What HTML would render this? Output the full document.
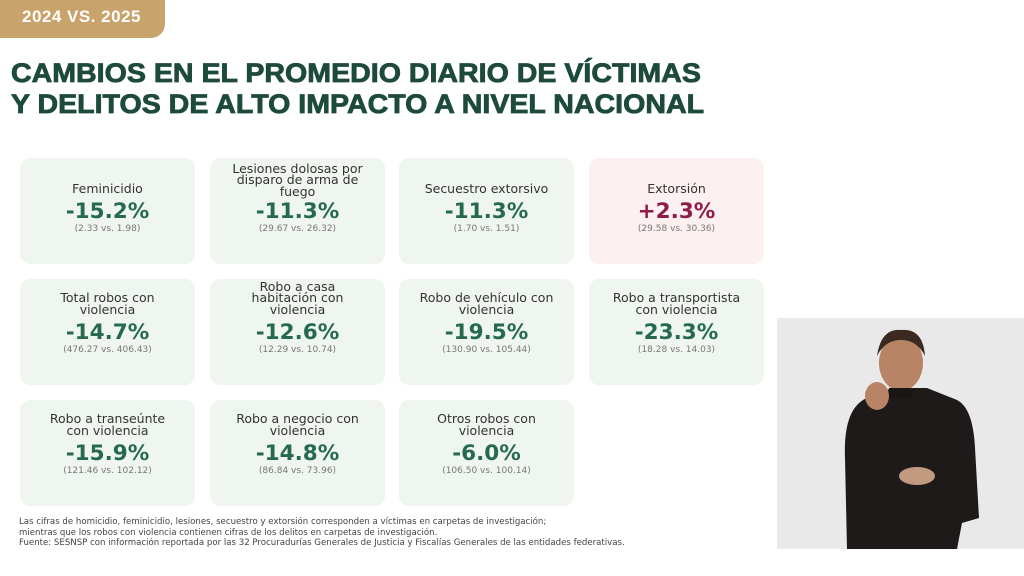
<!DOCTYPE html>
<html><head><meta charset="utf-8"><style>
*{margin:0;padding:0;box-sizing:border-box}
body{width:1024px;height:576px;background:#fff;position:relative;overflow:hidden;font-family:"DejaVu Sans","Liberation Sans",sans-serif}
.badge{position:absolute;left:0;top:0;width:165px;height:38px;background:#c8a36b;border-radius:0 0 14px 0;color:#fff;font:bold 17px "Liberation Sans",sans-serif;padding:7px 0 0 22px;letter-spacing:.5px}
.title{position:absolute;left:11px;top:58px;color:#1d4a3c;font:bold 27px/31px "Liberation Sans",sans-serif;-webkit-text-stroke:.8px #1d4a3c;transform:scaleX(1.058);transform-origin:0 0;white-space:nowrap}
.card{position:absolute;width:175px;height:106px;background:#eff6ef;border-radius:10px}
.card.pink{background:#fcf0f1}
.lab{position:absolute;left:0;right:0;bottom:70px;text-align:center;color:#333;font-size:12.5px;line-height:11.5px}
.pct{position:absolute;left:0;right:0;top:40px;text-align:center;color:#256a4c;font-size:21.5px;line-height:28px;font-weight:600}
.pink .pct{color:#8e1b48}
.sm{position:absolute;left:0;right:0;top:66px;text-align:center;color:#777;font-size:9px}
.foot{position:absolute;left:19px;top:517px;font-size:8.6px;line-height:10.5px;color:#444;white-space:nowrap}
.video{position:absolute;left:777px;top:318px;width:247px;height:231px;background:#e9e9e9}
</style></head><body>
<div class="badge">2024 VS. 2025</div>
<div class="title">CAMBIOS EN EL PROMEDIO DIARIO DE VÍCTIMAS<br>Y DELITOS DE ALTO IMPACTO A NIVEL NACIONAL</div>

<div class="card" style="left:20px;top:158px"><div class="lab">Feminicidio</div><div class="pct">-15.2%</div><div class="sm">(2.33 vs. 1.98)</div></div>
<div class="card" style="left:210px;top:158px"><div class="lab" style="bottom:67px">Lesiones dolosas por<br>disparo de arma de<br>fuego</div><div class="pct">-11.3%</div><div class="sm">(29.67 vs. 26.32)</div></div>
<div class="card" style="left:399px;top:158px"><div class="lab">Secuestro extorsivo</div><div class="pct">-11.3%</div><div class="sm">(1.70 vs. 1.51)</div></div>
<div class="card pink" style="left:589px;top:158px"><div class="lab">Extorsión</div><div class="pct">+2.3%</div><div class="sm">(29.58 vs. 30.36)</div></div>

<div class="card" style="left:20px;top:279px"><div class="lab">Total robos con<br>violencia</div><div class="pct">-14.7%</div><div class="sm">(476.27 vs. 406.43)</div></div>
<div class="card" style="left:210px;top:279px"><div class="lab">Robo a casa<br>habitación con<br>violencia</div><div class="pct">-12.6%</div><div class="sm">(12.29 vs. 10.74)</div></div>
<div class="card" style="left:399px;top:279px"><div class="lab">Robo de vehículo con<br>violencia</div><div class="pct">-19.5%</div><div class="sm">(130.90 vs. 105.44)</div></div>
<div class="card" style="left:589px;top:279px"><div class="lab">Robo a transportista<br>con violencia</div><div class="pct">-23.3%</div><div class="sm">(18.28 vs. 14.03)</div></div>

<div class="card" style="left:20px;top:400px"><div class="lab">Robo a transeúnte<br>con violencia</div><div class="pct">-15.9%</div><div class="sm">(121.46 vs. 102.12)</div></div>
<div class="card" style="left:210px;top:400px"><div class="lab">Robo a negocio con<br>violencia</div><div class="pct">-14.8%</div><div class="sm">(86.84 vs. 73.96)</div></div>
<div class="card" style="left:399px;top:400px"><div class="lab">Otros robos con<br>violencia</div><div class="pct">-6.0%</div><div class="sm">(106.50 vs. 100.14)</div></div>

<div class="foot">Las cifras de homicidio, feminicidio, lesiones, secuestro y extorsión corresponden a víctimas en carpetas de investigación;<br>mientras que los robos con violencia contienen cifras de los delitos en carpetas de investigación.<br>Fuente: SESNSP con información reportada por las 32 Procuradurías Generales de Justicia y Fiscalías Generales de las entidades federativas.</div>

<div class="video">
<svg width="247" height="231" viewBox="0 0 247 231">
<path d="M70 231 L68 140 Q66 90 90 80 L115 70 L150 70 L180 82 Q196 90 198 130 L202 200 L185 205 L180 231 Z" fill="#1e1a1a"/>
<ellipse cx="124" cy="45" rx="22" ry="28" fill="#b98466"/>
<path d="M100 38 Q104 10 124 12 Q146 10 148 38 Q140 22 124 22 Q108 22 100 38Z" fill="#3a2a22"/>
<path d="M112 70 L136 70 L136 80 L112 80Z" fill="#1a1616"/>
<ellipse cx="100" cy="78" rx="12" ry="14" fill="#b98466"/>
<ellipse cx="140" cy="158" rx="18" ry="9" fill="#c29a80"/>
</svg>
</div>
</body></html>
